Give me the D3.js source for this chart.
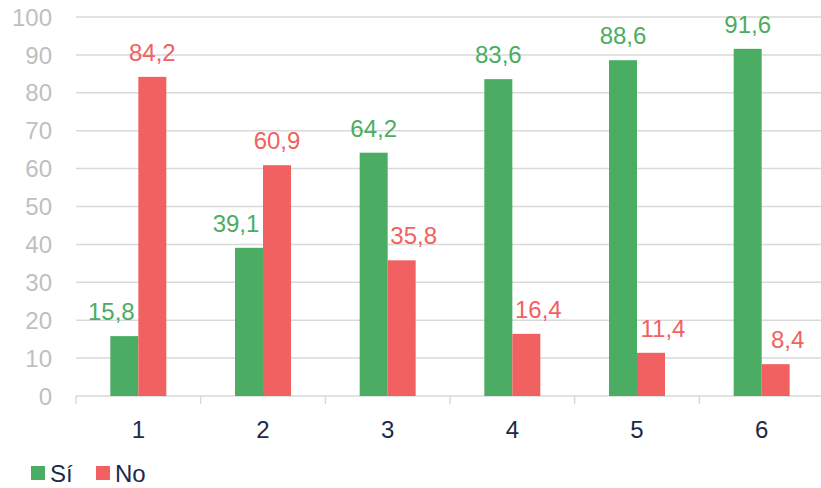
<!DOCTYPE html>
<html><head><meta charset="utf-8">
<script src="https://cdn.jsdelivr.net/npm/d3@7"></script>
<style>body{margin:0;background:#fff}svg{display:block;font-family:"Liberation Sans",Arial,sans-serif}</style>
</head><body><svg id="c" width="821" height="488"></svg>
<script>
const categories = ["1","2","3","4","5","6"];
const seriesNames = ["Sí","No"];
const si = [15.8,39.1,64.2,83.6,88.6,91.6];
const no = [84.2,60.9,35.8,16.4,11.4,8.4];
const yTicks = [0,10,20,30,40,50,60,70,80,90,100];
const colors = ["#4aad63","#f26161"];

(function(){
const svg = d3.select("#c");
const pl = 76, pr = 824, pt = 17, pb = 396;
const x = d3.scaleBand().domain(categories).range([pl,pr]).paddingInner(0).paddingOuter(0);
const y = d3.scaleLinear().domain([0,100]).range([pb,pt]);
const bw = 28;

svg.append("g").selectAll("line").data(yTicks.filter(d=>d>0)).join("line")
  .attr("x1",pl).attr("x2",pr).attr("y1",d=>y(d)).attr("y2",d=>y(d))
  .attr("stroke","#d9d9d9").attr("stroke-width",1.5);

svg.append("g").selectAll("text").data(yTicks).join("text")
  .attr("x",52).attr("y",d=>y(d)).attr("dy","0.36em").attr("text-anchor","end")
  .attr("font-size",24).attr("fill","#bfbfbf").text(d=>d);

svg.append("line").attr("x1",pl).attr("x2",pr).attr("y1",pb).attr("y2",pb)
  .attr("stroke","#d9d9d9").attr("stroke-width",1.5);
const bounds = categories.map(c=>x(c)).concat([pr]);
svg.append("g").selectAll("line").data(bounds).join("line")
  .attr("x1",d=>d).attr("x2",d=>d).attr("y1",pb).attr("y2",pb+8)
  .attr("stroke","#d9d9d9").attr("stroke-width",1.5);

svg.append("g").selectAll("text").data(categories).join("text")
  .attr("x",d=>x(d)+x.bandwidth()/2).attr("y",438).attr("text-anchor","middle")
  .attr("font-size",24).attr("fill","#1b2a4a").text(d=>d);

const all = [si,no];
all.forEach((vals,k)=>{
  const other = all[1-k];
  const g = svg.append("g");
  const bx = (c)=>x(c)+x.bandwidth()/2 + (k===0?-bw:0);
  // shorter bar of the pair: nudge its label outward so it clears the taller neighbour
  const nudge = (i)=> vals[i] < other[i] ? (k===0?-13:12) : 0;
  g.selectAll("rect").data(categories).join("rect")
    .attr("x",c=>bx(c)).attr("width",bw)
    .attr("y",(c,i)=>y(vals[i])).attr("height",(c,i)=>y(0)-y(vals[i]))
    .attr("fill",colors[k]);
  g.selectAll("text").data(categories).join("text")
    .attr("x",(c,i)=>bx(c)+bw/2+nudge(i)).attr("y",(c,i)=>y(vals[i])-16)
    .attr("text-anchor","middle").attr("font-size",24).attr("fill",colors[k])
    .text((c,i)=>String(vals[i]).replace(".",","));
});

const lx = [31,96];
seriesNames.forEach((n,i)=>{
  svg.append("rect").attr("x",lx[i]).attr("y",466).attr("width",14).attr("height",14).attr("fill",colors[i]);
  svg.append("text").attr("x",lx[i]+19).attr("y",482).attr("font-size",24).attr("fill","#1b2a4a").text(n);
});
})();
</script></body></html>
